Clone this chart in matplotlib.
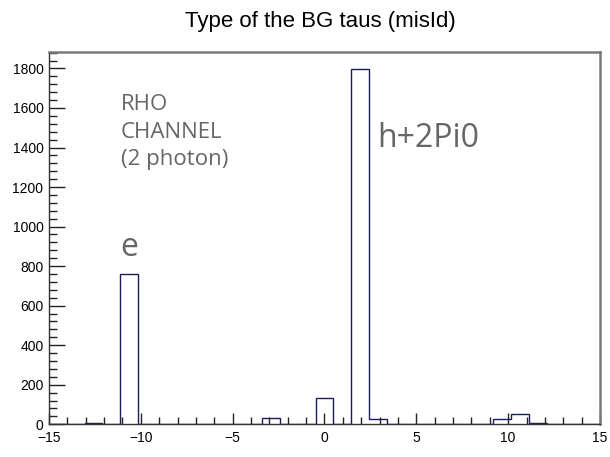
import numpy as np
import matplotlib
matplotlib.use("Agg")
import matplotlib.pyplot as plt
from matplotlib.ticker import MultipleLocator

# 31 bins between -15 and 15 (ROOT-style histogram)
bin_edges = np.linspace(-15, 15, 32)
counts = [0, 0, 5, 0, 760, 0, 0, 0, 0, 0, 0, 0, 33, 0, 0, 133,
          0, 1795, 28, 0, 0, 0, 0, 0, 0, 28, 53, 5, 0, 0, 0]

title = "Type of the BG taus (misId)"
notes = ["RHO", "CHANNEL", "(2 photon)"]

plt.rcParams["font.family"] = ["Liberation Sans", "DejaVu Sans"]

fig = plt.figure(figsize=(6.1, 4.57), dpi=100)
ax = fig.add_axes([0.0803, 0.0716, 0.9033, 0.8153])

ax.stairs(counts, bin_edges, color="#1c1c5c", linewidth=1.0, baseline=0)

ax.set_xlim(-15, 15)
ax.set_ylim(0, max(counts) * 1.05)

ax.xaxis.set_major_locator(MultipleLocator(5))
ax.xaxis.set_minor_locator(MultipleLocator(1))
ax.yaxis.set_major_locator(MultipleLocator(200))
ax.yaxis.set_minor_locator(MultipleLocator(40))

ax.tick_params(axis="both", which="both", direction="in", color="#222222",
               labelsize=10, top=False, right=False)
ax.tick_params(axis="y", which="major", length=11.3, width=1.0, pad=4)
ax.tick_params(axis="y", which="minor", length=5.8, width=1.0)
ax.tick_params(axis="x", which="major", length=8, width=1.0, pad=4.5)
ax.tick_params(axis="x", which="minor", length=4.7, width=1.0)

for side in ("top", "right"):
    ax.spines[side].set_color("#7a7a7a")
    ax.spines[side].set_linewidth(1.8)
for side in ("left", "bottom"):
    ax.spines[side].set_color("#333333")
    ax.spines[side].set_linewidth(1.0)

grey = "#666666"
note_font = ["Open Sans", "DejaVu Sans"]
for line, y in zip(notes, [1589, 1450, 1311]):
    ax.text(-11.1, y, line, color=grey, fontsize=16, family=note_font,
            va="baseline", ha="left")
ax.text(-11.1, 851, "e", color=grey, fontsize=23, family=note_font,
        va="baseline", ha="left")
ax.text(2.86, 1403, "h+2Pi0", color=grey, fontsize=23, family=note_font,
        va="baseline", ha="left")

fig.text(0.525, 0.941, title, ha="center", va="baseline", fontsize=16, color="black")

fig.savefig("out.png", dpi=100)
plt.close(fig)
